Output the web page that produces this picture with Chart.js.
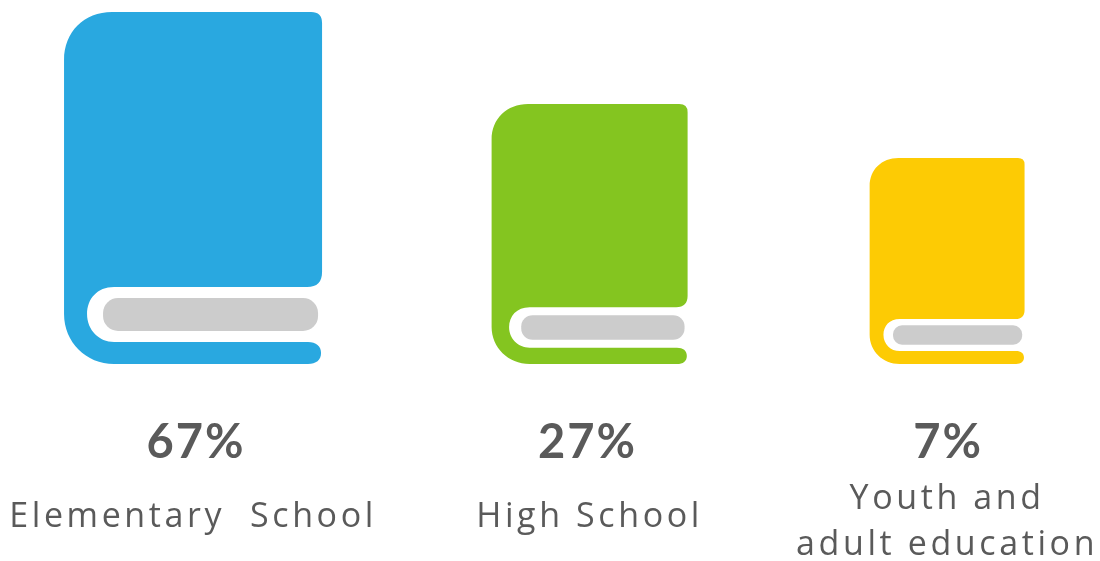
<!DOCTYPE html>
<html>
<head>
<meta charset="utf-8">
<style>
  html, body { margin: 0; padding: 0; background: #ffffff; overflow: hidden; }
  canvas { display: block; }
</style>
<script src="https://cdn.jsdelivr.net/npm/chart.js@4/dist/chart.umd.js"></script>
</head>
<body>
<canvas id="books" width="1100" height="561"></canvas>
<script>
// Share of enrolment by level of schooling
const categories = [["Elementary  School"], ["High School"], ["Youth and", "adult education"]];
const sharePercent = [67, 27, 7];
const bookColors = ["#29a8e0", "#84c520", "#fdcb04"];

const textColor = "#5a5a5a";
const valueFont = "Lato, sans-serif";
const labelFont = "'Open Sans', sans-serif";
const letterSpacing = "3.6px";

// Each book keeps its own width-to-height proportion
const bookAspect = [0.733, 0.754, 0.752];
// Horizontal centre of each column, as a fraction of the canvas width
const columnCentres = [0.1755, 0.536, 0.861];
// Sideways optical correction of each percentage against its book
const valueNudge = [2, -3, 0];

// Value axis with a raised floor: even a small share gets a full-looking book
class BookHeightScale extends Chart.LinearScale {
  static id = "bookHeight";
  static defaults = Chart.LinearScale.defaults;
  getPixelForValue(value) {
    const { floor, exponent } = this.options;
    const t = Math.pow(Math.max(value, 0) / this.max, exponent);
    return this.bottom - (floor + (1 - floor) * t) * (this.bottom - this.top);
  }
}

// Category axis whose columns sit at chosen centres instead of even steps
class PlacedCategoryScale extends Chart.CategoryScale {
  static id = "placedCategory";
  static defaults = Chart.CategoryScale.defaults;
  getPixelForValue(value) {
    const index = typeof value === "number" ? value : this.parse(value);
    return this.options.centres[Math.round(index)] * this.chart.width;
  }
  // Two-line labels hang a little lower than the single-line ones
  _computeLabelItems(chartArea) {
    const items = super._computeLabelItems(chartArea);
    items.forEach(item => {
      if (Array.isArray(item.label) && item.label.length > 1) item.textOffset += this.options.multiLineDrop;
    });
    return items;
  }
}

Chart.register(BookHeightScale, PlacedCategoryScale);

// The outline below is laid out on a 258 by 352 grid, then stretched to each bar
const GRID_W = 258, GRID_H = 352;

function drawBook(ctx, x, top, base, aspect, color) {
  const height = base - top;
  const width = height * aspect;
  ctx.save();
  ctx.translate(x - width / 2, top);
  ctx.scale(width / GRID_W, height / GRID_H);

  ctx.fillStyle = color;
  ctx.beginPath();
  ctx.moveTo(0, 48);
  ctx.bezierCurveTo(0, 20, 20, 0, 48, 0);
  ctx.lineTo(247, 0);
  ctx.quadraticCurveTo(258, 0, 258, 11);
  ctx.lineTo(258, 260);
  ctx.bezierCurveTo(258, 270, 253, 275, 243, 275);
  ctx.lineTo(50, 275);
  ctx.bezierCurveTo(33, 275, 23, 287, 23, 302);
  ctx.bezierCurveTo(23, 318, 35, 330, 50, 330);
  ctx.lineTo(244, 330);
  ctx.bezierCurveTo(252, 330, 257, 334, 257, 341);
  ctx.bezierCurveTo(257, 348, 252, 352, 244, 352);
  ctx.lineTo(50, 352);
  ctx.bezierCurveTo(22, 352, 0, 330, 0, 302);
  ctx.closePath();
  ctx.fill();

  ctx.fillStyle = "#cccccc";
  ctx.beginPath();
  ctx.roundRect(39, 286, 215, 33, 15);
  ctx.fill();
  ctx.restore();
}

const bookPlugin = {
  id: "bookMarks",
  beforeDraw(chart) {
    chart.ctx.letterSpacing = letterSpacing;
  },
  beforeDatasetDraw(chart, args) {
    const { ctx, scales } = chart;
    const dataset = chart.data.datasets[args.index];
    args.meta.data.forEach((bar, i) => {
      drawBook(ctx, bar.x, bar.y, scales.y.bottom, bookAspect[i], dataset.backgroundColor[i]);
    });
    ctx.save();
    ctx.fillStyle = textColor;
    ctx.font = "700 47px " + valueFont;
    ctx.letterSpacing = "2px";
    ctx.textAlign = "center";
    ctx.textBaseline = "middle";
    args.meta.data.forEach((bar, i) => {
      ctx.fillText(dataset.data[i] + "%", bar.x + 1 + valueNudge[i], scales.x.top + 79);
    });
    ctx.restore();
    return false;
  }
};

new Chart(document.getElementById("books"), {
  type: "bar",
  data: {
    labels: categories,
    datasets: [{ data: sharePercent, backgroundColor: bookColors }]
  },
  plugins: [bookPlugin],
  options: {
    responsive: false,
    animation: false,
    layout: { padding: { top: 12, left: 0, right: 0, bottom: 0 } },
    plugins: { legend: { display: false }, tooltip: { enabled: false } },
    scales: {
      y: {
        type: "bookHeight",
        display: false,
        min: 0,
        max: 67,
        floor: 0.514,
        exponent: 0.85
      },
      x: {
        type: "placedCategory",
        centres: columnCentres,
        multiLineDrop: 5,
        afterFit(scale) { scale.height = 197; },
        grid: { display: false, drawTicks: false },
        border: { display: false },
        ticks: {
          color: textColor,
          padding: 130,
          crossAlign: "center",
          maxRotation: 0,
          autoSkip: false,
          font: { family: labelFont, size: 34, lineHeight: 1.36, weight: "400" }
        }
      }
    }
  }
});
</script>
</body>
</html>
